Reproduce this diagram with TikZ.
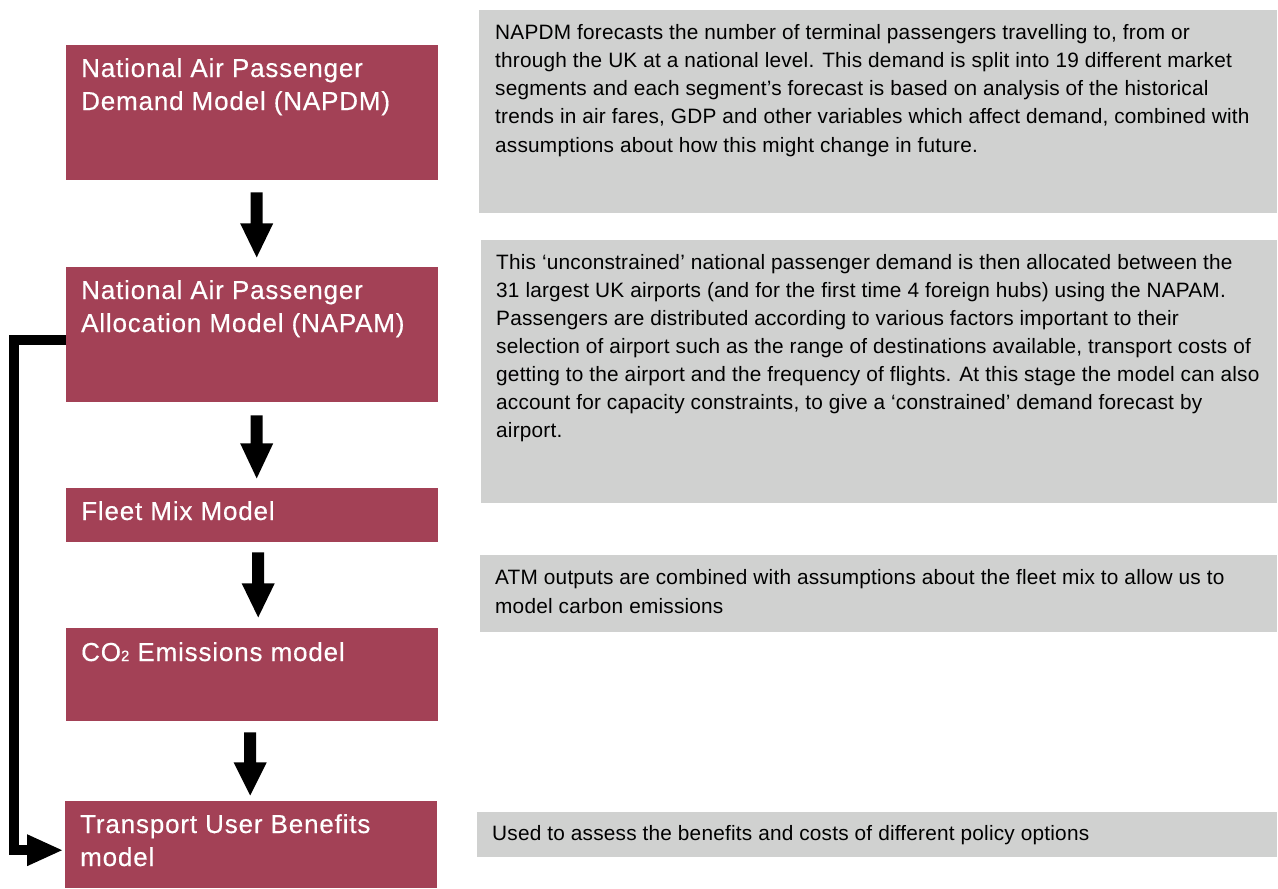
\documentclass[tikz,border=0pt]{standalone}
\usepackage{fontspec}
\setmainfont{Liberation Sans}
\newfontfamily\redfont[LetterSpace=3.2,FakeBold=0.4]{Liberation Sans}
\newfontfamily\grayfont[LetterSpace=1]{Liberation Sans}
\usetikzlibrary{calc}
\definecolor{boxred}{RGB}{163,65,86}
\definecolor{boxgray}{RGB}{208,209,208}
\tikzset{
  redbox/.style={fill=boxred, draw=none, anchor=north west, inner sep=0pt},
  graybox/.style={fill=boxgray, draw=none, anchor=north west, inner sep=0pt},
  redtext/.style={anchor=base west, inner sep=0pt, align=left, text=white, font=\redfont\fontsize{26}{33}\selectfont},
  graytext/.style={anchor=base west, inner sep=0pt, align=left, text=black, font=\grayfont\fontsize{20.8}{28.1}\selectfont},
  conn/.style={line width=10pt, line join=miter},
}
\begin{document}
\begin{tikzpicture}[x=1pt,y=-1pt]
\useasboundingbox (0,0) rectangle (1278,889);
% red boxes
\node[redbox, minimum width=372pt, minimum height=135pt] (b1) at (66,45) {};
\node[redbox, minimum width=372pt, minimum height=135pt] (b2) at (66,267) {};
\node[redbox, minimum width=372pt, minimum height=54pt] (b3) at (66,488) {};
\node[redbox, minimum width=372pt, minimum height=93pt] (b4) at (66,628) {};
\node[redbox, minimum width=372pt, minimum height=87pt] (b5) at (65,801) {};
% gray boxes
\node[graybox, minimum width=798pt, minimum height=203pt] (g1) at (479,10) {};
\node[graybox, minimum width=796pt, minimum height=263pt] (g2) at (481,240) {};
\node[graybox, minimum width=797pt, minimum height=77pt] (g3) at (480,555) {};
\node[graybox, minimum width=800pt, minimum height=45pt] (g4) at (477,812) {};
% red texts (anchor = baseline of last line)
\node[redtext] (t1) at (81,110) {National Air Passenger\\Demand Model (NAPDM)};
\node[redtext] (t2) at (81,332) {National Air Passenger\\Allocation Model (NAPAM)};
\node[redtext] (t3) at (81,520) {Fleet Mix Model};
\node[redtext] (t4) at (81,661) {CO{\fontsize{15}{15}\selectfont 2} Emissions model};
\node[redtext] (t5) at (80,866) {Transport User Benefits\\model};
% gray texts
\node[graytext] (s1) at (495,152) {NAPDM forecasts the number of terminal passengers travelling to, from or\\through the UK at a national level. This demand is split into 19 different market\\segments and each segment’s forecast is based on analysis of the historical\\trends in air fares, GDP and other variables which affect demand, combined with\\assumptions about how this might change in future.};
\node[graytext] (s2) at (496,437.6) {This ‘unconstrained’ national passenger demand is then allocated between the\\31 largest UK airports (and for the first time 4 foreign hubs) using the NAPAM.\\Passengers are distributed according to various factors important to their\\selection of airport such as the range of destinations available, transport costs of\\getting to the airport and the frequency of flights. At this stage the model can also\\account for capacity constraints, to give a ‘constrained’ demand forecast by\\airport.};
\node[graytext] (s3) at (495,613) {ATM outputs are combined with assumptions about the fleet mix to allow us to\\model carbon emissions};
\node[graytext] (s4) at (492,840) {Used to assess the benefits and costs of different policy options};
% block arrows
\fill ($(b1.south)+(-1.5,12)$) -- ++(12,0) -- ++(0,31) -- ++(10.5,0) -- ++(-16.5,34) -- ++(-16.5,-34) -- ++(10.5,0) -- cycle;
\fill ($(b2.south)+(-1.5,13)$) -- ++(12,0) -- ++(0,28) -- ++(10.5,0) -- ++(-16.5,35) -- ++(-16.5,-35) -- ++(10.5,0) -- cycle;
\fill ($(b3.south)+(0,10)$) -- ++(12,0) -- ++(0,31) -- ++(10.5,0) -- ++(-16.5,34) -- ++(-16.5,-34) -- ++(10.5,0) -- cycle;
\fill ($(b4.south)+(-8,11)$) -- ++(12,0) -- ++(0,30) -- ++(10.5,0) -- ++(-16.5,33) -- ++(-16.5,-33) -- ++(10.5,0) -- cycle;
% side connector
\draw[conn] ($(b2.north west)+(0,72.5)$) -- ++(-52,0) |- ($(b5.west)+(-38,5.5)$);
\fill ($(b5.west)+(-3,5.5)$) -- ++(-35,-16) -- ++(0,32) -- cycle;
\end{tikzpicture}
\end{document}
